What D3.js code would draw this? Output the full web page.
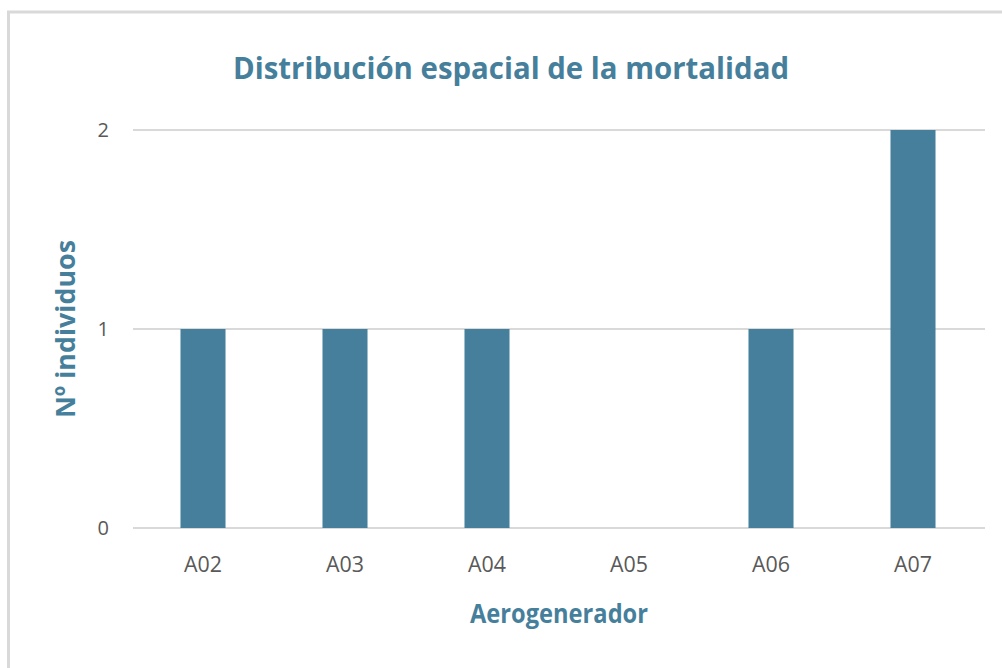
<!DOCTYPE html>
<html>
<head>
<meta charset="utf-8">
<script src="https://cdn.jsdelivr.net/npm/d3@7"></script>
<style>
  body { margin: 0; background: #fff; }
  text { font-family: "Open Sans", "Noto Sans", sans-serif; }
</style>
</head>
<body>
<div id="chart"></div>
<script>
var categories = ["A02", "A03", "A04", "A05", "A06", "A07"];
var values = [1, 1, 1, 0, 1, 2];
var yTicks = [0, 1, 2];

var W = 1002, H = 668;
var blue = "#467f9b";

var svg = d3.select("#chart")
    .append("svg")
    .attr("width", W)
    .attr("height", H)

// chart area border (only left + top visible in the crop)
svg.append("path")
    .attr("d", "M8.5,668 L8.5,12 L1002,12")
    .style("fill", "none")
    .style("stroke", "#d9d9d9")
    .style("stroke-width", 3)

var x = d3.scaleBand()
    .domain(categories)
    .range([132, 984])
    .paddingInner(0.683)
    .paddingOuter(0.3415)

var y = d3.scaleLinear()
    .domain([0, 2])
    .range([528, 130])

// gridlines
svg.selectAll(".grid")
    .data(yTicks)
    .enter()
    .append("line")
    .attr("x1", 133)
    .attr("x2", 985)
    .attr("y1", function(d){ return y(d) })
    .attr("y2", function(d){ return y(d) })
    .style("stroke", "#d9d9d9")
    .style("stroke-width", 2)

// y tick labels
svg.selectAll(".ylab")
    .data(yTicks)
    .enter()
    .append("text")
    .attr("x", 109)
    .attr("y", function(d){ return y(d) + 7 })
    .attr("text-anchor", "end")
    .style("font-size", "20px")
    .style("fill", "#595959")
    .text(function(d){ return d })

// bars
svg.selectAll(".bar")
    .data(values)
    .enter()
    .append("rect")
    .attr("x", function(d, i){ return x(categories[i]) })
    .attr("width", x.bandwidth())
    .attr("y", function(d){ return y(d) })
    .attr("height", function(d){ return y(0) - y(d) })
    .style("fill", blue)

// x labels
svg.selectAll(".xlab")
    .data(categories)
    .enter()
    .append("text")
    .attr("x", function(d){ return x(d) + x.bandwidth() / 2 })
    .attr("y", 572)
    .attr("text-anchor", "middle")
    .attr("textLength", 38)
    .attr("lengthAdjust", "spacingAndGlyphs")
    .style("font-size", "22px")
    .style("fill", "#595959")
    .text(function(d){ return d })

// title
svg.append("text")
    .attr("x", 511)
    .attr("y", 79)
    .attr("text-anchor", "middle")
    .attr("textLength", 556)
    .attr("lengthAdjust", "spacingAndGlyphs")
    .style("font-size", "31px")
    .style("font-weight", "bold")
    .style("fill", blue)
    .text("Distribución espacial de la mortalidad")

// x axis title
svg.append("text")
    .attr("x", 559)
    .attr("y", 623)
    .attr("text-anchor", "middle")
    .attr("textLength", 178)
    .attr("lengthAdjust", "spacingAndGlyphs")
    .style("font-size", "27px")
    .style("font-weight", "bold")
    .style("fill", blue)
    .text("Aerogenerador")

// y axis title
svg.append("text")
    .attr("transform", "translate(75,329) rotate(-90)")
    .attr("text-anchor", "middle")
    .attr("textLength", 178)
    .attr("lengthAdjust", "spacingAndGlyphs")
    .style("font-size", "27px")
    .style("font-weight", "bold")
    .style("fill", blue)
    .text("Nº individuos")
</script>
</body>
</html>
